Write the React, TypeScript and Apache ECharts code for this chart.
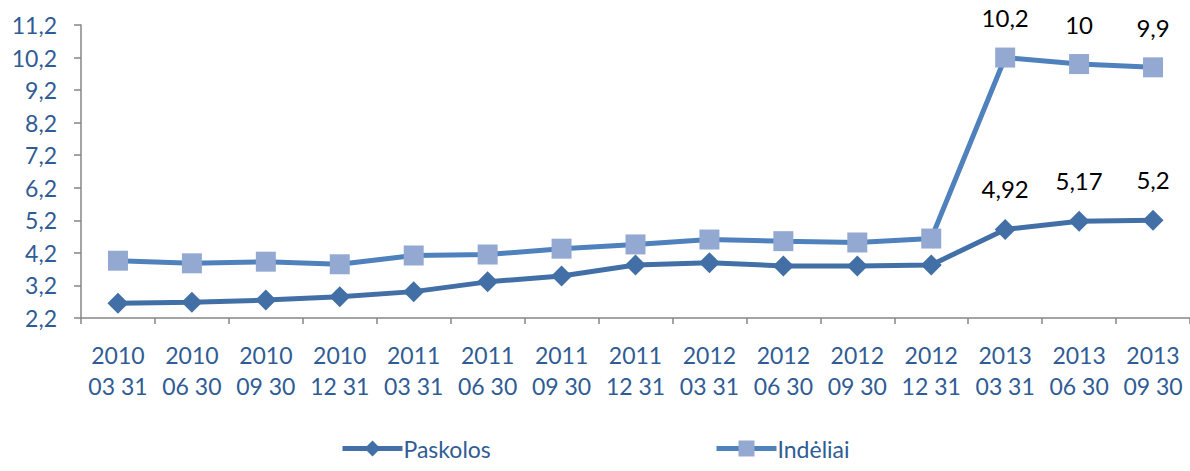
import React, { useEffect, useRef } from "react";
import * as echarts from "echarts";

const categories = [
  "2010\n03 31", "2010\n06 30", "2010\n09 30", "2010\n12 31",
  "2011\n03 31", "2011\n06 30", "2011\n09 30", "2011\n12 31",
  "2012\n03 31", "2012\n06 30", "2012\n09 30", "2012\n12 31",
  "2013\n03 31", "2013\n06 30", "2013\n09 30",
];
const paskolos = [2.65, 2.68, 2.75, 2.85, 3.01, 3.31, 3.49, 3.83, 3.9, 3.8, 3.8, 3.83, 4.92, 5.17, 5.2];
const indeliai = [3.96, 3.88, 3.93, 3.85, 4.12, 4.15, 4.33, 4.46, 4.61, 4.56, 4.52, 4.64, 10.2, 10, 9.9];
const labeledFrom = 12;

const FONT = "Lato, 'Noto Sans', sans-serif";
const BLUE_TEXT = "#2F5C94";

function withLabels(values: number[]) {
  return values.map((v, i) => ({
    value: v,
    label: { show: i >= labeledFrom },
  }));
}

export default function App() {
  const ref = useRef<HTMLDivElement>(null);
  useEffect(() => {
    if (!ref.current) return;
    const chart = echarts.init(ref.current, undefined, { renderer: "svg" });
    const labelCfg = {
      position: "top" as const,
      distance: 18,
      color: "#000",
      fontSize: 24,
      fontFamily: FONT,
      formatter: (p: any) => String(p.value).replace(".", ","),
    };
    const legendText = { color: BLUE_TEXT, fontSize: 23, fontFamily: FONT, padding: [0, 0, 0, -4] };
    const legendBase = {
      top: 437,
      padding: 0,
      itemWidth: 60,
      itemHeight: 20,
      itemGap: 4,
      textStyle: legendText,
      lineStyle: { width: 5 },
    };
    chart.setOption({
      animation: false,
      backgroundColor: "#fff",
      grid: { left: 81, right: -7, top: 25, bottom: 153, containLabel: false },
      xAxis: {
        type: "category",
        data: categories,
        boundaryGap: true,
        axisLine: { lineStyle: { color: "#868686", width: 1.5 } },
        axisTick: { show: true, length: 6, lineStyle: { color: "#868686", width: 1.5 } },
        axisLabel: {
          color: BLUE_TEXT,
          fontSize: 23,
          fontFamily: FONT,
          lineHeight: 31,
          margin: 21,
          interval: 0,
        },
        splitLine: { show: false },
      },
      yAxis: {
        type: "value",
        min: 2.2,
        max: 11.2,
        interval: 1,
        axisLine: { show: true, lineStyle: { color: "#868686", width: 1.5 } },
        axisTick: { show: true, length: 7, lineStyle: { color: "#868686", width: 1.5 } },
        axisLabel: {
          color: BLUE_TEXT,
          fontSize: 23,
          fontFamily: FONT,
          margin: 24,
          formatter: (v: number) => v.toFixed(1).replace(".", ","),
        },
        splitLine: { show: false },
      },
      legend: [
        { ...legendBase, data: ["Paskolos"], left: 340 },
        { ...legendBase, data: ["Indėliai"], left: 714 },
      ],
      series: [
        {
          name: "Paskolos",
          type: "line",
          data: withLabels(paskolos),
          symbol: "diamond",
          symbolSize: 21,
          lineStyle: { color: "#4270A6", width: 5 },
          itemStyle: { color: "#4270A6" },
          label: labelCfg,
          z: 3,
        },
        {
          name: "Indėliai",
          type: "line",
          data: withLabels(indeliai),
          symbol: "rect",
          symbolSize: 20,
          lineStyle: { color: "#4F81BD", width: 5 },
          itemStyle: { color: "#94A9D2" },
          label: labelCfg,
          z: 2,
        },
      ],
    });
    return () => chart.dispose();
  }, []);
  return (
    <div
      ref={ref}
      style={{ position: "absolute", left: 0, top: 0, width: 1190, height: 471 }}
    />
  );
}
